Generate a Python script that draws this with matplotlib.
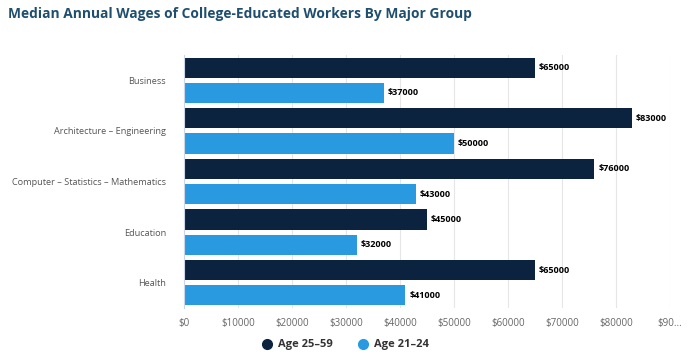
import matplotlib.pyplot as plt
import numpy as np
from matplotlib.lines import Line2D

plt.rcParams['font.family'] = ['Open Sans', 'DejaVu Sans']

categories = ["Business", "Architecture \u2013 Engineering",
              "Computer \u2013 Statistics \u2013 Mathematics", "Education", "Health"]
age_25_59 = [65000, 83000, 76000, 45000, 65000]
age_21_24 = [37000, 50000, 43000, 32000, 41000]
xticks = [0, 10000, 20000, 30000, 40000, 50000, 60000, 70000, 80000, 90000]
xtick_labels = ["$0", "$10000", "$20000", "$30000", "$40000", "$50000",
                "$60000", "$70000", "$80000", "$90..."]

dark = '#0c2340'
light = '#2a9ae0'

fig = plt.figure(figsize=(6.92, 3.61), dpi=100)
ax = fig.add_axes([184 / 692, 1 - 308 / 361, (670 - 184) / 692, (308 - 55) / 361])

y = np.arange(len(categories))
h = 0.4
ax.barh(y - 0.25, age_25_59, height=h, color=dark)
ax.barh(y + 0.25, age_21_24, height=h, color=light)

for yi, v in zip(y, age_25_59):
    ax.text(v + 700, yi - 0.25, f"${v}", va='center', ha='left',
            fontsize=6.5, fontweight='bold', color='black')
for yi, v in zip(y, age_21_24):
    ax.text(v + 700, yi + 0.25, f"${v}", va='center', ha='left',
            fontsize=6.5, fontweight='bold', color='black')

ax.set_ylim(len(categories) - 0.5, -0.5)
ax.set_xlim(0, 90000)
ax.set_yticks(y)
ax.set_yticklabels(categories, fontsize=6.6, color='#555555')
ax.set_xticks(xticks)
ax.set_xticklabels(xtick_labels, fontsize=7, color='#666666')
ax.tick_params(axis='y', length=0, pad=13)
ax.tick_params(axis='x', length=0, pad=7)
ax.grid(axis='x', color='#e6e6e6', linewidth=0.8)
ax.set_axisbelow(True)
for s in ['top', 'right', 'bottom']:
    ax.spines[s].set_visible(False)
ax.spines['left'].set_color('#ccd6eb')
ax.spines['left'].set_linewidth(0.8)

fig.text(8 / 692, 1 - 14 / 361, "Median Annual Wages of College-Educated Workers By Major Group",
         fontsize=9.9, fontweight='bold', color='#1f4e6e', va='center', ha='left')

handles = [Line2D([], [], marker='o', linestyle='', markersize=7, color=dark),
           Line2D([], [], marker='o', linestyle='', markersize=7, color=light)]
leg = fig.legend(handles, ["Age 25\u201359", "Age 21\u201324"], loc='center',
                 bbox_to_anchor=(345 / 692, 1 - 345 / 361), ncol=2, frameon=False,
                 prop={'size': 8, 'weight': 'bold'}, handletextpad=0.5,
                 columnspacing=2.2, handlelength=1)
for t in leg.get_texts():
    t.set_color('#333333')

fig.savefig('out.png', dpi=100)
